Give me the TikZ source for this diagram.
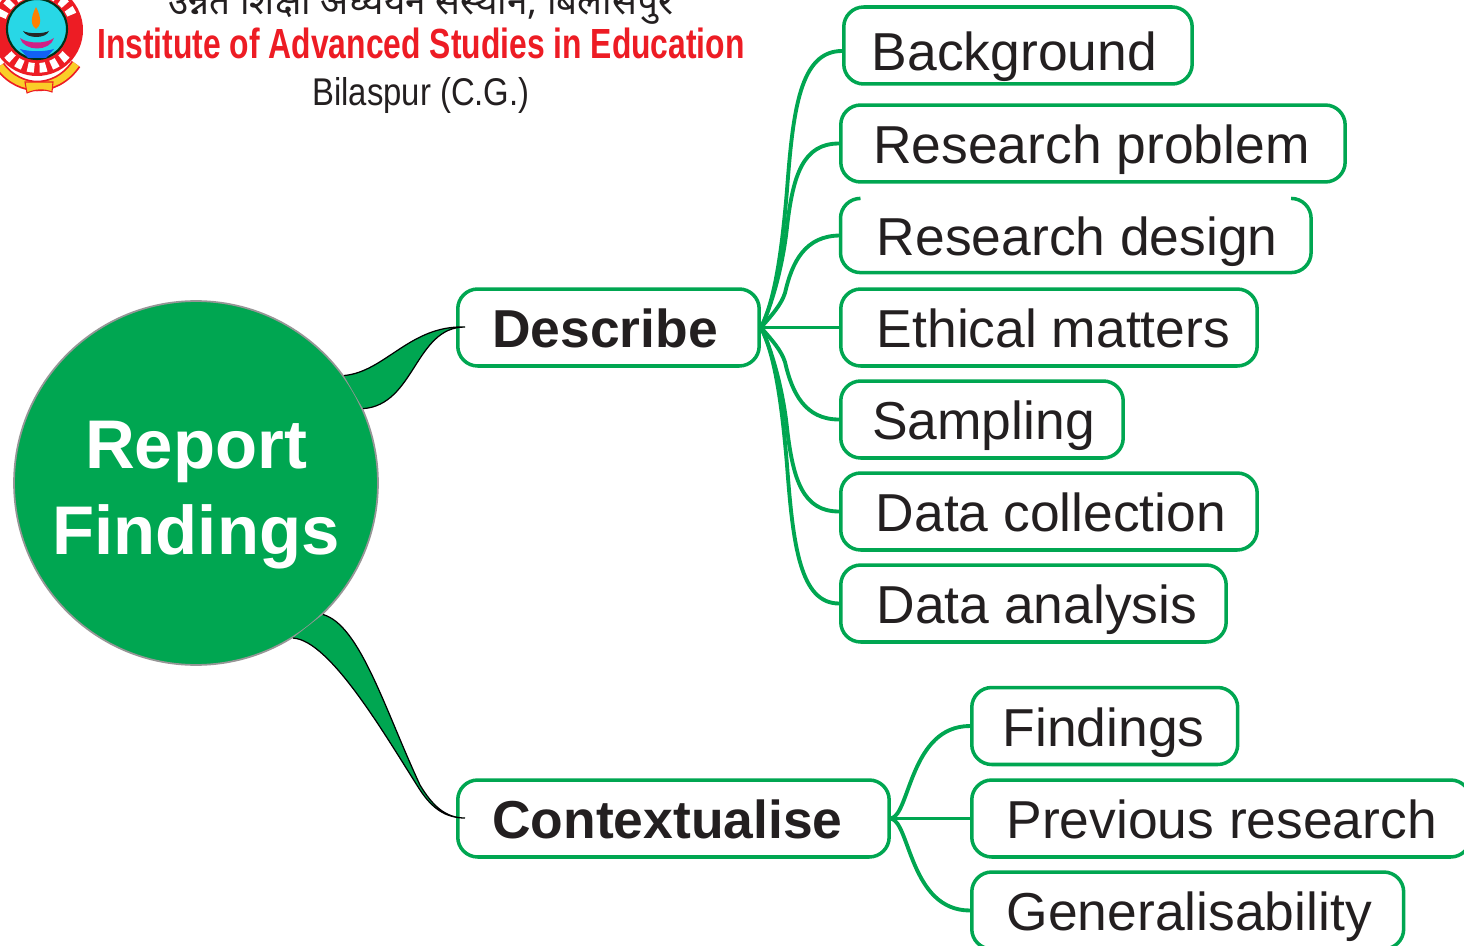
\documentclass[tikz,border=0pt]{standalone}
\usepackage{fontspec}
\usepackage{xcolor}
\usepackage{tikz}
\usetikzlibrary{shapes.geometric, positioning, calc}
\setmainfont{Liberation Sans}
\newfontfamily\narrowfont[FakeStretch=0.755]{Liberation Sans}
\newfontfamily\cityfont[FakeStretch=0.85]{Liberation Sans}
\newfontfamily\hindifont[Script=Devanagari]{Noto Sans}
\definecolor{iasegreen}{RGB}{0,166,81}
\definecolor{iasered}{RGB}{237,28,36}
\definecolor{iasegray}{RGB}{150,150,150}
\definecolor{iasetext}{RGB}{35,31,32}
\definecolor{iasecyan}{RGB}{40,215,230}
\definecolor{iaseyellow}{RGB}{250,205,40}
\tikzset{
  itemtext/.style={anchor=west,text=iasetext,inner ysep=0pt,inner xsep=0pt,minimum height=1.54cm,
    text height=1.0cm,text depth=0.2cm,font=\fontsize{30.4}{36}\selectfont},
  itembox/.style={itemtext,draw=iasegreen,line width=2pt,rounded corners=0.4cm},
  mainbox/.style={itembox,font=\fontsize{30.4}{36}\selectfont\bfseries},
  nudge/.style={execute at begin node={\hspace*{#1}}},
  branch/.style={draw=iasegreen,line width=2.2pt},
  taper/.style={fill=iasegreen,draw=black,line width=0.7pt},
  beads/.style={white,line width=5.5pt,dash pattern=on 3.8pt off 3pt}
}
\begin{document}
\begin{tikzpicture}[x=0.02cm,y=-0.02cm]
\useasboundingbox (0,0) rectangle (1464,946);
% Logo
\draw[iasered,line width=6pt] (0,66) .. controls (10,80) and (25,86) .. (37,86) .. controls (50,86) and (65,80) .. (76,64);
\draw[iaseyellow,line width=4pt] (0,66) .. controls (10,80) and (25,86) .. (37,86) .. controls (50,86) and (65,80) .. (76,64);
\fill[iaseyellow,draw=iasered,line width=0.6pt] (25,82) -- (27,93) .. controls (36,89) and (44,89) .. (52,92) -- (53,82) -- cycle;
\fill[iasered] (37,30) circle (46);
\draw[beads] (37,30) ++(40:38) arc (40:140:38);
\draw[beads] (37,30) ++(200:38) arc (200:340:38);
\fill[iasecyan,draw=black!70!iasegreen,line width=1.2pt] (37,29) circle (30);
\fill[orange] (36,7) .. controls (30,18) and (31,26) .. (36,29) .. controls (41,26) and (42,18) .. (36,7) -- cycle;
\fill[black!85] (23,31) .. controls (27,39) and (46,39) .. (49,31) .. controls (43,34) and (29,34) .. (23,31) -- cycle;
\fill[magenta!85!black] (20,38) .. controls (24,52) and (50,52) .. (54,38) .. controls (46,44) and (28,44) .. (20,38) -- cycle;
\fill[blue!55!iasecyan] (20,49) .. controls (30,52) and (44,52) .. (54,49) -- (46,58) -- (28,58) -- cycle;
% Heading
\node[font=\hindifont\fontsize{21}{25}\selectfont,text=iasetext,anchor=base,inner sep=0pt] (hindi) at (421,15) {उन्नत शिक्षा अध्ययन संस्थान, बिलासपुर};
\node[font=\narrowfont\bfseries\fontsize{24}{29}\selectfont,text=iasered,anchor=base,inner sep=0pt] (institute) at (421,59) {Institute of Advanced Studies in Education};
\node[font=\cityfont\fontsize{22}{26}\selectfont,text=iasetext,anchor=base,inner sep=0pt] (city) at (421,106) {Bilaspur (C.G.)};
% Centre
\node[circle,fill=iasegreen,draw=iasegray,line width=1pt,minimum size=7.28cm,inner sep=0pt,align=center,text=white,text height=3.16cm,font=\fontsize{39.2}{49}\selectfont\bfseries] (report) at (196,483) {Report\\Findings};
% Main boxes
\node[mainbox,minimum width=6.03cm,nudge=-0.14cm] (describe) at (456,327.5) {Describe};
\node[mainbox,minimum width=8.63cm,nudge=-0.24cm] (context) at (456,818.5) {Contextualise};
% Describe items
\node[itembox,minimum width=6.97cm,text height=1.22cm,nudge=-0.14cm] (background) at (842,45.5) {Background};
\node[itembox,minimum width=10.09cm,nudge=-0.06cm] (problem) at (839,143.5) {Research problem};
\node[itemtext,minimum width=9.4cm,minimum height=1.47cm,nudge=0.06cm] (design) at (840.5,235.5) {Research design};
\draw[branch,line width=2pt,rounded corners=0.4cm] ([xshift=0.4cm]design.north west) -- (design.north west) -- (design.south west) -- (design.south east) -- (design.north east) -- ([xshift=-0.4cm]design.north east);
\node[itembox,minimum width=8.33cm,nudge=0.18cm] (ethical) at (839,327.5) {Ethical matters};
\node[itembox,minimum width=5.65cm,nudge=0.06cm] (sampling) at (839,419.5) {Sampling};
\node[itembox,minimum width=8.33cm,nudge=0.08cm] (collection) at (839,511.5) {Data collection};
\node[itembox,minimum width=7.71cm,nudge=0.14cm] (analysis) at (839,603.5) {Data analysis};
% Contextualise items
\node[itembox,minimum width=5.32cm,nudge=-0.04cm] (findings) at (970,726) {Findings};
\node[itembox,minimum width=9.98cm,nudge=0.02cm] (previous) at (970,818.5) {Previous research};
\node[itembox,minimum width=8.64cm,nudge=0.06cm] (general) at (970,910.5) {Generalisability};
% Describe branches
\draw[branch] (describe.east) .. controls (775,300) and (782,250) .. (787,190) .. controls (793,110) and (800,51) .. ([yshift=-0.11cm]background.west);
\draw[branch] (describe.east) .. controls (772,305) and (783,265) .. (787,227) .. controls (793,175) and (803,143.5) .. (problem.west);
\draw[branch] (describe.east) .. controls (772,315) and (781,305) .. (785,293) .. controls (792,262) and (805,235.5) .. (design.west);
\draw[branch] (describe.east) -- (ethical.west);
\draw[branch] (describe.east) .. controls (772,340) and (781,350) .. (785,362) .. controls (792,393) and (805,419.5) .. (sampling.west);
\draw[branch] (describe.east) .. controls (772,350) and (783,390) .. (787,428) .. controls (793,480) and (803,511.5) .. (collection.west);
\draw[branch] (describe.east) .. controls (775,355) and (782,405) .. (787,465) .. controls (793,545) and (800,603.5) .. (analysis.west);
% Contextualise branches
\draw[branch] (context.east) .. controls (910,815) and (910,726) .. (findings.west);
\draw[branch] (context.east) -- (previous.west);
\draw[branch] (context.east) .. controls (910,822) and (910,910.5) .. (general.west);
% Tapered links
\coordinate (describetip) at (465,327);
\coordinate (contexttip) at (465,818);
\draw[taper] (report.36) .. controls (385,372) and (410,325) .. (describetip) .. controls (415,327) and (415,405) .. (report.24);
\draw[taper] (report.-46) .. controls (360,625) and (385,710) .. (420,785) .. controls (432,805) and (445,818) .. (contexttip) .. controls (445,818) and (432,808) .. (420,790) .. controls (385,735) and (330,640) .. (report.-58);
\end{tikzpicture}
\end{document}
